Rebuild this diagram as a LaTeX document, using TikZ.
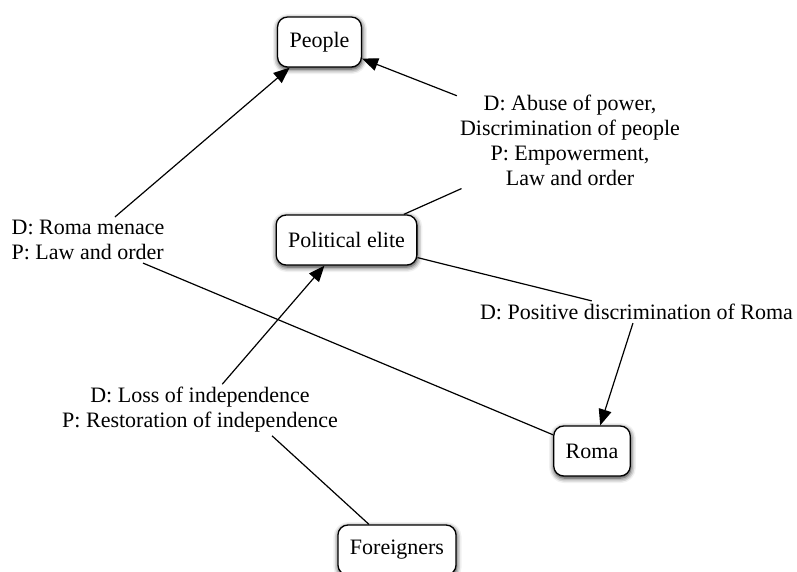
\documentclass[tikz,border=0pt]{standalone}
\usepackage{fontspec}
\setmainfont{Liberation Serif}
\usetikzlibrary{arrows.meta,shadows.blur}

\tikzset{
 box/.style={draw, line width=1.3pt, rounded corners=10pt, fill=white,
  inner xsep=12pt, minimum height=50pt,
  blur shadow={shadow xshift=0.5pt, shadow yshift=-2pt, shadow blur radius=5pt, shadow opacity=90}},
 lbl/.style={inner sep=3pt},
 link/.style={line width=1.2pt},
 tolink/.style={link, -{Triangle[length=16pt,width=13pt]}}
}

\begin{document}
\begin{tikzpicture}[x=1pt, y=-1pt, font=\fontsize{22}{25}\selectfont]

\useasboundingbox (0,0) rectangle (797,571);

% actors
 \foreach \name/\x/\y/\txt in {people/319.5/42/People, elite/346.5/240/Political elite,
   roma/592/451/Roma, foreign/397/550/Foreigners}
  {
  \path (\x,\y) node[box] (\name) {\txt};
  }

% labels on the links
\path
(88,240) node[lbl, align=left] (menace) {D: Roma menace\\P: Law and order}
(570,140) node[lbl, align=center] (abuse) {D: Abuse of power,\\Discrimination of people\\P: Empowerment,\\Law and order}
(636.5,312) node[lbl] (posdisc) {D: Positive discrimination of Roma}
(200,410) node[lbl, align=center] (loss) {D: Loss of independence\\P: Restoration of independence};

% roma menace
\draw[link] (roma) -- (menace);
\draw[tolink] (menace) -- (people);
% abuse of power
\draw[link] (elite) -- (abuse);
\draw[tolink] (abuse) -- (people);
% positive discrimination
\draw[link] (elite) -- (posdisc);
\draw[tolink] (posdisc) -- (roma);
% loss of independence
\draw[link] (foreign) -- ([xshift=72pt]loss.south);
\draw[tolink] (loss) -- (elite);

\end{tikzpicture}
\end{document}
